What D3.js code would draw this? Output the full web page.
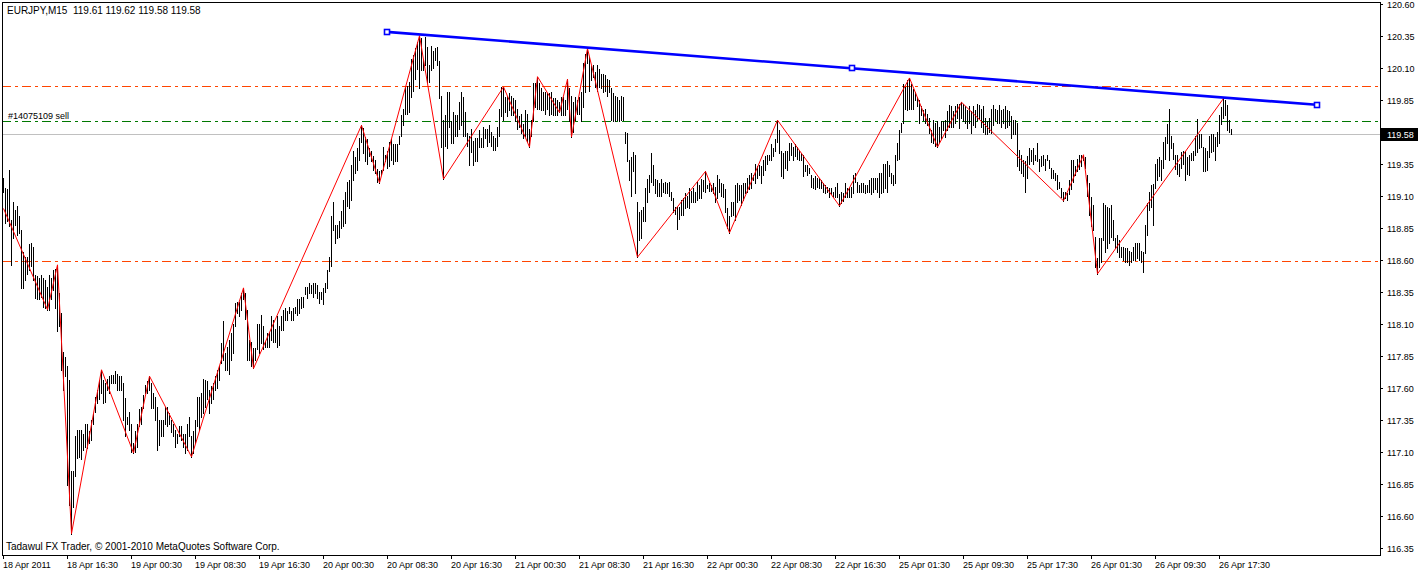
<!DOCTYPE html>
<html><head><meta charset="utf-8">
<script src="https://cdn.jsdelivr.net/npm/d3@7"></script>
<style>html,body{margin:0;padding:0;background:#fff}svg{display:block}text{font-family:"Liberation Sans",Arial,sans-serif;font-size:9px;fill:#000;white-space:pre}text.big{font-size:10px}</style>
</head><body>
<script>
// ---- data ----
const symbolTitle = "EURJPY,M15  119.61 119.62 119.58 119.58";
const copyright = "Tadawul FX Trader, © 2001-2010 MetaQuotes Software Corp.";
const timeLabels = ["18 Apr 2011","18 Apr 16:30","19 Apr 00:30","19 Apr 08:30","19 Apr 16:30","20 Apr 00:30","20 Apr 08:30","20 Apr 16:30","21 Apr 00:30","21 Apr 08:30","21 Apr 16:30","22 Apr 00:30","22 Apr 08:30","22 Apr 16:30","25 Apr 01:30","25 Apr 09:30","25 Apr 17:30","26 Apr 01:30","26 Apr 09:30","26 Apr 17:30"];
const barsPerLabel = 32;
const priceTicks = [120.60,120.35,120.10,119.85,119.35,119.10,118.85,118.60,118.35,118.10,117.85,117.60,117.35,117.10,116.85,116.60,116.35];
const highs = [
119.24,119.16,119.15,119.30,118.91,119.05,118.99,119.02,118.94,118.83,
118.66,118.62,118.62,118.72,118.73,118.70,118.48,118.47,118.46,118.48,
118.46,118.44,118.39,118.48,118.46,118.52,118.53,118.56,118.34,118.18,
117.88,117.84,117.77,117.66,116.95,116.95,117.22,117.27,117.27,117.27,
117.24,117.32,117.32,117.26,117.35,117.40,117.53,117.58,117.66,117.74,
117.66,117.64,117.67,117.69,117.70,117.70,117.73,117.71,117.69,117.69,
117.64,117.52,117.37,117.41,117.32,117.17,117.26,117.32,117.43,117.45,
117.54,117.62,117.65,117.69,117.64,117.56,117.53,117.45,117.35,117.35,
117.35,117.45,117.45,117.40,117.35,117.32,117.27,117.24,117.30,117.30,
117.24,117.24,117.32,117.37,117.22,117.26,117.35,117.53,117.53,117.56,
117.67,117.66,117.65,117.58,117.61,117.64,117.69,117.74,117.77,117.95,
118.12,117.87,117.92,117.97,118.03,118.10,118.26,118.27,118.27,118.34,
118.38,118.34,118.21,117.97,117.96,117.91,117.91,118.10,118.10,118.17,
118.08,117.96,118.03,118.03,118.16,118.13,118.06,118.16,118.08,118.16,
118.21,118.22,118.20,118.23,118.20,118.22,118.23,118.29,118.29,118.31,
118.31,118.39,118.39,118.42,118.40,118.42,118.42,118.40,118.35,118.35,
118.38,118.42,118.52,118.62,118.94,119.05,118.87,118.87,118.90,118.98,
119.07,119.13,119.21,119.22,119.34,119.45,119.40,119.47,119.55,119.65,
119.63,119.56,119.54,119.47,119.45,119.41,119.38,119.31,119.29,119.30,
119.48,119.42,119.45,119.52,119.54,119.50,119.50,119.50,119.57,119.73,
119.78,119.95,119.96,119.99,120.17,120.20,120.25,120.30,120.35,120.33,
120.17,120.34,120.26,120.12,120.27,120.23,120.25,120.26,120.15,119.88,
119.69,119.73,119.91,119.91,119.68,119.75,119.73,119.73,119.83,119.91,
119.87,119.75,119.59,119.57,119.62,119.53,119.55,119.55,119.61,119.55,
119.64,119.62,119.62,119.65,119.60,119.57,119.55,119.64,119.78,119.95,
119.95,119.87,119.88,119.90,119.88,119.86,119.85,119.78,119.72,119.74,
119.66,119.77,119.74,119.62,119.69,119.98,119.98,120.03,119.98,119.94,
119.91,119.91,119.90,119.90,119.91,119.86,119.86,119.85,119.83,119.87,
119.87,119.85,120.01,119.94,119.88,119.83,119.87,119.85,119.87,119.91,
120.14,120.21,120.25,120.18,120.11,120.12,120.07,120.12,120.09,120.05,
120.05,120.04,120.01,120.00,119.94,119.90,119.88,119.87,119.85,119.88,
119.87,119.60,119.59,119.38,119.40,119.44,119.42,119.05,118.97,118.99,
119.01,119.16,119.23,119.26,119.43,119.34,119.23,119.22,119.20,119.23,
119.20,119.21,119.20,119.21,119.13,119.08,119.01,119.01,119.01,119.07,
119.08,119.12,119.10,119.16,119.14,119.16,119.13,119.21,119.18,119.23,
119.22,119.29,119.18,119.20,119.18,119.20,119.17,119.26,119.23,119.20,
119.19,119.15,119.00,118.94,119.05,119.05,119.18,119.20,119.18,119.18,
119.20,119.20,119.24,119.26,119.28,119.26,119.35,119.33,119.34,119.33,
119.38,119.41,119.42,119.42,119.50,119.47,119.54,119.69,119.61,119.45,
119.43,119.45,119.45,119.51,119.51,119.48,119.50,119.48,119.46,119.43,
119.42,119.34,119.34,119.32,119.26,119.24,119.25,119.24,119.24,119.22,
119.20,119.18,119.17,119.16,119.16,119.13,119.17,119.20,119.11,119.13,
119.12,119.20,119.16,119.16,119.17,119.26,119.28,119.21,119.18,119.20,
119.20,119.18,119.18,119.22,119.24,119.24,119.24,119.24,119.28,119.28,
119.35,119.35,119.37,119.34,119.28,119.26,119.42,119.51,119.61,119.67,
119.97,119.95,120.00,120.02,119.97,119.93,119.91,119.87,119.85,119.80,
119.77,119.78,119.74,119.71,119.61,119.69,119.67,119.68,119.64,119.68,
119.68,119.69,119.76,119.81,119.80,119.76,119.80,119.82,119.82,119.83,
119.82,119.80,119.77,119.80,119.76,119.80,119.77,119.82,119.81,119.78,
119.80,119.71,119.68,119.71,119.78,119.81,119.78,119.77,119.81,119.77,
119.78,119.80,119.77,119.76,119.72,119.69,119.69,119.67,119.46,119.42,
119.38,119.37,119.41,119.47,119.46,119.47,119.42,119.51,119.39,119.41,
119.42,119.39,119.42,119.38,119.32,119.30,119.28,119.26,119.21,119.16,
119.13,119.13,119.12,119.22,119.38,119.38,119.33,119.39,119.42,119.42,
119.42,119.40,119.26,119.20,119.09,119.03,118.78,118.61,118.77,118.77,
119.04,119.03,119.01,119.00,119.03,118.91,118.77,118.79,118.75,118.70,
118.70,118.69,118.69,118.67,118.66,118.70,118.73,118.73,118.73,118.67,
118.66,118.87,119.04,119.13,119.18,119.19,119.35,119.39,119.40,119.38,
119.52,119.56,119.66,119.78,119.57,119.51,119.42,119.42,119.35,119.44,
119.45,119.45,119.40,119.42,119.43,119.45,119.57,119.70,119.58,119.58,
119.48,119.47,119.45,119.57,119.58,119.58,119.56,119.60,119.73,119.79,
119.86,119.85,119.81,119.69,119.62];
const lows = [
119.13,118.89,118.90,118.86,118.56,118.77,118.87,118.79,118.81,118.38,
118.38,118.44,118.49,118.52,118.55,118.44,118.30,118.29,118.29,118.31,
118.23,118.22,118.21,118.21,118.29,118.36,118.22,118.04,118.08,117.74,
117.58,117.69,116.84,116.68,116.46,116.67,116.91,117.05,117.06,117.04,
117.11,117.14,117.13,117.17,117.19,117.32,117.41,117.48,117.51,117.56,
117.48,117.49,117.58,117.56,117.64,117.64,117.64,117.58,117.58,117.58,
117.35,117.22,117.32,117.27,117.10,117.09,117.10,117.14,117.30,117.32,
117.44,117.56,117.56,117.58,117.44,117.44,117.35,117.11,117.15,117.22,
117.22,117.32,117.30,117.32,117.25,117.22,117.14,117.17,117.22,117.19,
117.14,117.09,117.11,117.22,117.06,117.09,117.17,117.30,117.27,117.37,
117.40,117.45,117.51,117.40,117.48,117.51,117.58,117.60,117.66,117.79,
117.82,117.74,117.74,117.71,117.82,117.87,118.08,118.18,118.16,118.21,
118.29,118.14,117.82,117.82,117.77,117.75,117.82,117.90,117.87,117.95,
117.90,117.92,117.92,117.92,117.97,117.96,117.96,117.92,117.93,118.05,
118.05,118.13,118.13,118.18,118.13,118.13,118.18,118.17,118.18,118.22,
118.23,118.33,118.30,118.34,118.34,118.31,118.34,118.30,118.26,118.29,
118.25,118.35,118.38,118.51,118.55,118.83,118.73,118.77,118.78,118.85,
118.86,118.89,119.02,119.00,119.07,119.22,119.28,119.30,119.38,119.52,
119.43,119.37,119.35,119.41,119.37,119.30,119.28,119.21,119.20,119.26,
119.30,119.37,119.32,119.33,119.38,119.35,119.37,119.37,119.50,119.57,
119.65,119.74,119.74,119.75,119.87,119.92,120.01,120.09,119.94,120.08,
120.08,120.12,119.98,119.99,120.08,120.10,120.16,120.12,119.86,119.48,
119.23,119.49,119.47,119.64,119.51,119.51,119.57,119.57,119.62,119.65,
119.57,119.57,119.49,119.34,119.44,119.34,119.37,119.37,119.48,119.48,
119.48,119.55,119.49,119.52,119.49,119.46,119.46,119.49,119.57,119.72,
119.69,119.75,119.72,119.77,119.73,119.73,119.68,119.62,119.64,119.59,
119.55,119.57,119.53,119.48,119.57,119.68,119.79,119.78,119.78,119.77,
119.77,119.74,119.78,119.73,119.74,119.73,119.73,119.73,119.75,119.73,
119.73,119.73,119.78,119.68,119.56,119.60,119.69,119.74,119.74,119.68,
119.79,119.91,120.14,119.92,120.00,120.03,119.95,119.92,119.95,119.94,
119.91,119.92,119.88,119.91,119.69,119.68,119.68,119.69,119.68,119.69,
119.69,119.51,119.37,119.22,119.10,119.29,119.12,118.62,118.75,118.77,
118.90,118.90,119.05,119.13,119.21,119.18,119.12,119.10,119.10,119.10,
119.13,119.12,119.12,119.10,119.07,118.97,118.96,118.84,118.92,118.95,
118.95,119.00,119.01,119.00,119.05,119.05,119.05,119.07,119.08,119.08,
119.14,119.13,119.16,119.14,119.14,119.12,119.05,119.08,119.13,119.10,
119.09,118.97,118.85,118.81,118.94,118.95,118.91,119.05,119.07,119.03,
119.07,119.12,119.13,119.15,119.16,119.22,119.20,119.24,119.26,119.20,
119.26,119.30,119.35,119.38,119.38,119.41,119.45,119.52,119.43,119.25,
119.24,119.32,119.30,119.38,119.42,119.38,119.41,119.39,119.38,119.38,
119.25,119.29,119.26,119.28,119.17,119.16,119.15,119.17,119.16,119.16,
119.13,119.12,119.13,119.09,119.11,119.09,119.09,119.09,119.02,119.04,
119.06,119.09,119.09,119.09,119.09,119.12,119.21,119.13,119.13,119.13,
119.13,119.12,119.13,119.13,119.11,119.13,119.15,119.13,119.09,119.12,
119.13,119.16,119.13,119.25,119.20,119.18,119.20,119.38,119.39,119.60,
119.67,119.78,119.77,119.78,119.78,119.78,119.85,119.80,119.67,119.73,
119.69,119.67,119.65,119.59,119.52,119.51,119.49,119.48,119.52,119.55,
119.61,119.56,119.61,119.64,119.64,119.64,119.67,119.71,119.63,119.71,
119.68,119.67,119.63,119.67,119.59,119.65,119.64,119.69,119.71,119.64,
119.60,119.58,119.58,119.60,119.59,119.65,119.69,119.67,119.67,119.64,
119.67,119.63,119.64,119.65,119.55,119.58,119.58,119.33,119.30,119.28,
119.25,119.13,119.24,119.35,119.37,119.35,119.38,119.37,119.29,119.33,
119.34,119.30,119.38,119.32,119.24,119.24,119.22,119.15,119.16,119.09,
119.06,119.08,119.07,119.11,119.15,119.21,119.26,119.29,119.31,119.33,
119.38,119.32,119.10,118.95,118.86,118.83,118.54,118.49,118.54,118.58,
118.75,118.66,118.69,118.73,118.78,118.75,118.69,118.66,118.62,118.62,
118.60,118.58,118.58,118.56,118.58,118.60,118.60,118.61,118.60,118.58,
118.50,118.65,118.79,118.99,119.01,118.87,119.16,119.22,119.25,119.22,
119.32,119.39,119.51,119.38,119.47,119.39,119.31,119.27,119.25,119.32,
119.35,119.22,119.27,119.26,119.38,119.38,119.42,119.44,119.47,119.48,
119.29,119.29,119.30,119.40,119.44,119.45,119.38,119.49,119.51,119.66,
119.71,119.73,119.61,119.60,119.58];
const zigzagBars = [0,22,27,34,49,65,73,94,120,125,179,188,208,220,250,263,267,278,282,284,292,317,351,363,387,418,453,467,479,530,540,547,610];
const zigzagPrices = [119.00,118.21,118.56,116.46,117.74,117.09,117.69,117.06,118.38,117.75,119.65,119.20,120.35,119.23,119.95,119.48,120.03,119.75,120.01,119.56,120.25,118.62,119.29,118.81,119.69,119.02,120.02,119.48,119.83,119.06,119.42,118.49,119.86];
const trendBars = [191.8, 656.8];
const trendPrices = [120.38, 119.81];
const levelPrices = [119.955, 118.59];   // orange dash-dot levels
const orderPrice = 119.68;               // green order line
const orderLabel = "#14075109 sell";
const bidPrice = 119.58;

// ---- chart ----
const W = 1418, H = 572;
const L = 2, R = 1380, T = 2, B = 555;
const svg = d3.select("body").append("svg").attr("width", W).attr("height", H);
const x = d3.scaleLinear().domain([0, 688.5]).range([3, R]);
const y = d3.scaleLinear().domain([116.35, 120.60]).range([547.7, 3.7]);

svg.append("clipPath").attr("id","clip").append("rect").attr("x",L).attr("y",T).attr("width",R-L).attr("height",B-T);
const g = svg.append("g").attr("clip-path","url(#clip)");

// horizontal levels
const dash = "9,4,3,4";
levelPrices.forEach(p => {
  g.append("line").attr("x1",L).attr("x2",R).attr("y1",Math.round(y(p))+0.5).attr("y2",Math.round(y(p))+0.5)
   .attr("stroke","#FF4500").attr("stroke-width",1).attr("stroke-dasharray",dash).attr("shape-rendering","crispEdges");
});
g.append("line").attr("x1",L).attr("x2",R).attr("y1",Math.round(y(orderPrice))+0.5).attr("y2",Math.round(y(orderPrice))+0.5)
 .attr("stroke","#007800").attr("stroke-width",1).attr("stroke-dasharray",dash).attr("shape-rendering","crispEdges");
g.append("line").attr("x1",L).attr("x2",R).attr("y1",Math.round(y(bidPrice))+0.5).attr("y2",Math.round(y(bidPrice))+0.5)
 .attr("stroke","#C0C0C0").attr("stroke-width",1).attr("shape-rendering","crispEdges");

// bars
g.append("g").selectAll("rect").data(highs).join("rect")
 .attr("x",(d,i)=>Math.round(x(i)))
 .attr("y",d=>Math.round(y(d)))
 .attr("width",1)
 .attr("height",(d,i)=>Math.max(1, Math.round(y(lows[i])) - Math.round(y(d)) + 1))
 .attr("fill","#000").attr("shape-rendering","crispEdges");

// zigzag
const zz = zigzagBars.map((b,i)=>[b, zigzagPrices[i]]);
g.append("path").datum(zz)
 .attr("d", d3.line().x(d=>x(d[0])+0.5).y(d=>y(d[1])))
 .attr("fill","none").attr("stroke","#FF0000").attr("stroke-width",1);

// trendline
const tr = trendBars.map((b,i)=>[b, trendPrices[i]]);
g.append("path").datum(tr)
 .attr("d", d3.line().x(d=>x(d[0])).y(d=>y(d[1])))
 .attr("fill","none").attr("stroke","#0000FF").attr("stroke-width",2.6);
const mid = [(tr[0][0]+tr[1][0])/2, (tr[0][1]+tr[1][1])/2];
[tr[0], mid, tr[1]].forEach(p=>{
  g.append("rect").attr("x",Math.round(x(p[0]))-2.5).attr("y",Math.round(y(p[1]))-2.5).attr("width",5).attr("height",5)
   .attr("fill","#fff").attr("stroke","#0000FF").attr("stroke-width",1.6);
});

// frame
svg.append("rect").attr("x",L+0.5).attr("y",T+0.5).attr("width",R-L).attr("height",B-T)
 .attr("fill","none").attr("stroke","#000").attr("stroke-width",1).attr("shape-rendering","crispEdges");

// price axis
priceTicks.forEach(p=>{
  const yy = Math.round(y(p))+0.5;
  svg.append("line").attr("x1",R).attr("x2",R+3).attr("y1",yy).attr("y2",yy).attr("stroke","#000").attr("shape-rendering","crispEdges");
  svg.append("text").attr("x",R+7).attr("y",yy+3.5).text(p.toFixed(2));
});
// bid box
const by = Math.round(y(bidPrice));
svg.append("rect").attr("x",R+1).attr("y",by-6).attr("width",W-R-1).attr("height",13).attr("fill","#000");
svg.append("text").attr("x",R+7).attr("y",by+3.5).style("fill","#fff").text(bidPrice.toFixed(2));

// time axis
timeLabels.forEach((t,i)=>{
  const xx = Math.round(x(i*barsPerLabel))+0.5;
  svg.append("line").attr("x1",xx).attr("x2",xx).attr("y1",B).attr("y2",B+4).attr("stroke","#000").attr("shape-rendering","crispEdges");
  svg.append("text").attr("x",xx-0.5).attr("y",568).text(t);
});

// texts
svg.append("text").attr("class","big").attr("x",7).attr("y",14).text(symbolTitle);
svg.append("text").attr("x",8).attr("y",119).text(orderLabel);
svg.append("text").attr("class","big").attr("x",6).attr("y",550).text(copyright);
</script>
</body></html>
